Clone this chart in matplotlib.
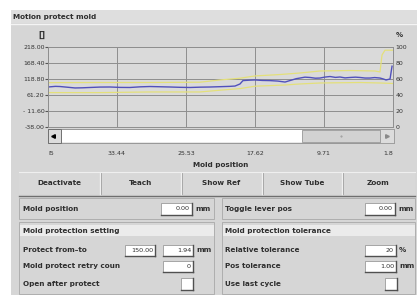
import matplotlib.pyplot as plt
from matplotlib.patches import Rectangle

# ---------------------------------------------------
# curve data (mold position in mm, value in %)
act_pos = [41.35, 40.5, 39.97, 39.0, 38.25, 37.4, 36.54, 35.4, 34.24, 33.1, 31.95,
           30.8, 29.66, 28.5, 27.36, 26.2, 25.07, 23.9, 22.78, 21.6, 20.5, 19.91,
           19.34, 19.0, 18.3, 17.62, 16.8, 15.9, 15.0, 14.18, 13.38, 12.9, 12.46,
           11.9, 11.31, 10.7, 10.17, 9.6, 9.02, 8.4, 7.88, 7.3, 6.73, 6.1, 5.58,
           5.0, 4.44, 3.9, 3.29, 2.9, 2.6, 2.14, 1.91]
act_val = [50.0, 50.8, 50.6, 49.6, 48.8, 49.0, 49.4, 49.9, 50.0, 49.5, 49.4,
           50.2, 50.6, 50.3, 50.0, 49.6, 49.4, 49.8, 50.0, 50.4, 50.8, 51.2,
           53.8, 58.0, 58.5, 58.8, 58.2, 58.0, 57.4, 56.2, 58.8, 60.4, 61.2,
           62.3, 61.9, 61.0, 61.2, 62.4, 63.1, 62.0, 62.5, 61.4, 61.9, 62.3, 61.9,
           61.2, 61.2, 61.8, 61.2, 60.0, 58.8, 60.0, 76.0]

upper_pos = [41.35, 35.39, 29.66, 23.92, 21.63, 19.34, 17.62, 14.75, 12.46, 10.17,
             6.73, 3.87, 3.29, 3.06, 2.72, 1.80]
upper_val = [55.4, 55.6, 55.6, 56.0, 58.8, 61.0, 63.8, 65.6, 67.5, 70.0,
             70.6, 70.0, 68.8, 90.0, 96.0, 96.0]

lower_pos = [41.35, 35.39, 29.66, 23.92, 21.63, 19.34, 17.62, 14.18, 12.46, 10.17,
             5.58, 3.29, 1.80]
lower_val = [43.0, 43.0, 43.8, 43.8, 46.0, 48.0, 51.0, 52.5, 53.8, 55.0,
             55.6, 55.0, 54.4]

x_ticks = [41.35, 33.44, 25.53, 17.62, 9.71, 1.80]
x_labels = ['I5', '33.44', '25.53', '17.62', '9.71', '1.8']
left_labels = ['-38.00', '- 11.60', '61.20', '118.80', '168.40', '218.00']
right_ticks = [0, 20, 40, 60, 80, 100]

buttons = ['Deactivate', 'Teach', 'Show Ref', 'Show Tube', 'Zoom']

# ---------------------------------------------------

plt.rcParams['font.family'] = ['DejaVu Sans']
W, H = 417, 295
panel = '#d6d6d6'
txt = '#2e2e2e'

fig = plt.figure(figsize=(W / 100, H / 100), dpi=100)
fig.patch.set_facecolor('white')
bg = fig.add_axes([0, 0, 1, 1])
bg.set_xlim(0, W)
bg.set_ylim(H, 0)
bg.axis('off')


def rect(x0, y0, x1, y1, fc, ec='none', lw=0.6, z=1):
    bg.add_patch(Rectangle((x0, y0), x1 - x0, y1 - y0, facecolor=fc,
                           edgecolor=ec, linewidth=lw, zorder=z))


def field(x0, y0, x1, y1, text=''):
    rect(x0, y0, x1, y1, 'white', '#9a9a9a', 0.6, 3)
    bg.plot([x1, x1], [y0, y1], color='#505050', lw=1.0, zorder=4)
    bg.plot([x0, x1], [y1, y1], color='#505050', lw=1.0, zorder=4)
    if text:
        bg.text(x1 - 2, (y0 + y1) / 2, text, ha='right', va='center',
                fontsize=4.6, color=txt, zorder=5)


def label(x, y, s, **kw):
    bg.text(x, y, s, ha=kw.pop('ha', 'left'), va='center', fontsize=kw.pop('fs', 5.2),
            fontweight='bold', color=txt, zorder=5, **kw)


# panel and title bar
rect(11, 10, W, H, panel)
rect(11, 10, W, 23, '#dedede')
bg.plot([11, W], [23.5, 23.5], color='#f4f4f4', lw=1.0, zorder=2)
label(13, 17, 'Motion protect mold')

# scrollbar under the chart
rect(48, 129, 394, 143, '#e8e8e8', '#8c8c8c', 0.6, 2)
rect(61, 130, 302, 142, 'white', z=3)
rect(302, 130, 380, 142, '#d2d2d2', '#9a9a9a', 0.6, 3)
rect(48, 129, 61, 143, '#dcdcdc', '#707070', 0.7, 3)
rect(380, 129, 394, 143, '#dcdcdc', '#9a9a9a', 0.6, 3)
bg.plot([53.5], [136], marker='<', ms=2.6, color='black', zorder=5)
bg.plot([387.5], [136], marker='>', ms=2.6, color='#8a8a8a', zorder=5)
bg.plot([341], [136], marker='.', ms=1.0, color='#9a9a9a', zorder=5)
label(221, 165, 'Mold position', ha='center')

# button row
rect(19, 172, 415, 194, '#d8d8d8')
bg.plot([19, 415], [172, 172], color='#efefef', lw=0.8, zorder=2)
bg.plot([19, 415], [195.5, 195.5], color='#6e6e6e', lw=1.0, zorder=2)
edges = [19, 100, 181, 262, 342, 415]
for i, b in enumerate(buttons):
    label((edges[i] + edges[i + 1]) / 2, 183, b, ha='center')
    if i > 0:
        bg.plot([edges[i], edges[i]], [173, 194], color='#f0f0f0', lw=1.0, zorder=2)
        bg.plot([edges[i] + 1, edges[i] + 1], [173, 194], color='#a0a0a0', lw=0.6, zorder=2)

# position row
rect(19, 198, 214, 219, panel, '#a8a8a8', 0.6, 2)
rect(222, 198, 415, 219, panel, '#a8a8a8', 0.6, 2)
label(23, 209, 'Mold position')
field(161, 203, 192, 215, '0.00')
label(195, 209, 'mm')
label(225, 209, 'Toggle lever pos')
field(365, 203, 395, 215, '0.00')
label(398, 209, 'mm')

# settings boxes
rect(19, 222, 214, 294, panel, '#a8a8a8', 0.6, 2)
rect(222, 222, 415, 294, panel, '#a8a8a8', 0.6, 2)
rect(20, 225, 214, 236, '#ebebeb', z=2)
rect(223, 225, 415, 236, '#ebebeb', z=2)
label(23, 231, 'Mold protection setting')
label(225, 231, 'Mold protection tolerance')

label(23, 250, 'Protect from\u2013to')
field(125, 245, 155, 256, '150.00')
field(163, 245, 193, 256, '1.94')
label(196, 250, 'mm')
label(23, 266, 'Mold protect retry coun')
field(163, 261, 193, 272, '0')
label(23, 284, 'Open after protect')
field(181, 278, 193, 290)

label(225, 250, 'Relative tolerance')
field(365, 245, 396, 256, '20')
label(399, 250, '%')
label(225, 266, 'Pos tolerance')
field(365, 261, 396, 272, '1.00')
label(399, 266, 'mm')
label(225, 284, 'Use last cycle')
field(385, 278, 397, 290)

# ---------------------------------------------------
# chart
ax = fig.add_axes([48 / W, 1 - 127 / H, 345 / W, 80 / H])
ax.set_facecolor('#dadada')
ax.plot(upper_pos, upper_val, color='#e4e07a', lw=0.9)
ax.plot(lower_pos, lower_val, color='#e4e07a', lw=0.9)
ax.plot(act_pos, act_val, color='#5050bc', lw=1.0)
ax.set_xlim(41.35, 1.80)
ax.set_ylim(0, 100)
ax.set_xticks(x_ticks)
ax.set_xticklabels(x_labels)
ax.set_yticks(right_ticks)
ax.set_yticklabels(left_labels)
ax.grid(True, color='#8e8e8e', lw=0.7)
for s in ax.spines.values():
    s.set_color('#8e8e8e')
    s.set_linewidth(0.7)
ax.tick_params(axis='y', length=2, pad=0.5, labelsize=4.5, colors='#555555',
               labelcolor='#333333')
ax.tick_params(axis='x', length=0, pad=17, labelsize=4.5, labelcolor='#333333')
xl = ax.get_xticklabels()
xl[0].set_ha('left')
xl[-1].set_ha('right')

ax2 = ax.twinx()
ax2.set_ylim(0, 100)
ax2.set_yticks(right_ticks)
ax2.set_yticklabels([str(v) for v in right_ticks])
ax2.tick_params(axis='y', length=0, pad=2, labelsize=4.5, labelcolor='#333333')
for s in ax2.spines.values():
    s.set_visible(False)

bg.text(42, 35, '[]', ha='center', va='center', fontsize=5.5, fontweight='bold', color=txt)
bg.text(396, 35, '%', ha='left', va='center', fontsize=5, fontweight='bold', color=txt)

fig.savefig('out.png', dpi=100)
